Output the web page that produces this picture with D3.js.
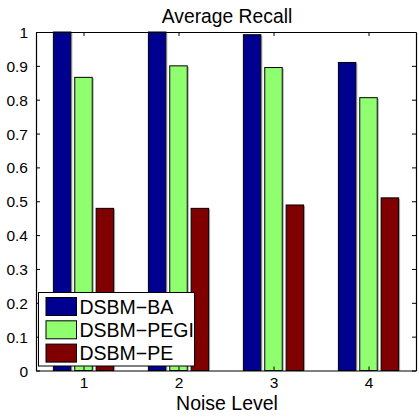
<!DOCTYPE html>
<html>
<head>
<meta charset="utf-8">
<script src="https://cdn.jsdelivr.net/npm/d3@7"></script>
<style>
  body { margin: 0; background: #fff; }
  text { font-family: "Liberation Sans", Arial, sans-serif; fill: #000; }
</style>
</head>
<body>
<div class="myBox"></div>
<script>
var levels = [1, 2, 3, 4];
var seriesNames = ["DSBM\u2212BA", "DSBM\u2212PEGI", "DSBM\u2212PE"];
var ba = [1.0, 1.0, 0.992, 0.910];
var pegi = [0.866, 0.900, 0.895, 0.806];
var pe = [0.479, 0.479, 0.489, 0.510];
var yTicks = [0, 0.1, 0.2, 0.3, 0.4, 0.5, 0.6, 0.7, 0.8, 0.9, 1];
var colors = ["#000090", "#8fff70", "#800000"];

var width = 419, height = 417;
var plotL = 36, plotR = 416, plotT = 32, plotB = 370.5;

var svg = d3.select(".myBox").append("svg")
  .attr("width", width)
  .attr("height", height);

var x = d3.scaleLinear().domain([0.5, 4.5]).range([plotL, plotR]);
var y = d3.scaleLinear().domain([0, 1]).range([plotB, plotT]);

var series = [ba, pegi, pe];
var offset = 0.225, barW = 0.184;

var bars = [];
series.forEach(function(vals, s) {
  vals.forEach(function(v, i) {
    bars.push({ s: s, x: levels[i] + (s - 1) * offset, v: v });
  });
});

// light shadow on the right side of each bar
svg.selectAll("rect.shadow").data(bars).enter().append("rect")
  .attr("class", "shadow")
  .attr("x", function(d) { return x(d.x + barW / 2) + 0.5; })
  .attr("y", function(d) { return y(d.v) + 1; })
  .attr("width", 1)
  .attr("height", function(d) { return plotB - y(d.v) - 1; })
  .attr("fill", "#aaa");

svg.selectAll("rect.bar").data(bars).enter().append("rect")
  .attr("class", "bar")
  .attr("x", function(d) { return x(d.x - barW / 2); })
  .attr("y", function(d) { return y(d.v); })
  .attr("width", function(d) { return x(d.x + barW / 2) - x(d.x - barW / 2); })
  .attr("height", function(d) { return plotB - y(d.v); })
  .attr("fill", function(d) { return colors[d.s]; })
  .attr("stroke", "#000")
  .attr("stroke-width", 1);

// axes (box with inward ticks)
var yAxis = d3.axisLeft(y).tickValues(yTicks).tickSizeInner(-4).tickSizeOuter(0).tickPadding(8)
  .tickFormat(function(d) { return d === 0 || d === 1 ? d3.format("d")(d) : d3.format(".1f")(d); });
var gy = svg.append("g").attr("transform", "translate(" + plotL + ",0)").call(yAxis);
var xAxis = d3.axisBottom(x).tickValues(levels).tickSizeInner(-4).tickSizeOuter(0).tickPadding(7)
  .tickFormat(d3.format("d"));
var gx = svg.append("g").attr("transform", "translate(0," + plotB + ")").call(xAxis);
var gyr = svg.append("g").attr("transform", "translate(" + plotR + ",0)")
  .call(d3.axisRight(y).tickValues(yTicks).tickSizeInner(-4).tickSizeOuter(0).tickFormat(""));
var gxt = svg.append("g").attr("transform", "translate(0," + plotT + ")")
  .call(d3.axisTop(x).tickValues(levels).tickSizeInner(-4).tickSizeOuter(0).tickFormat(""));

[gy, gx, gyr, gxt].forEach(function(g) {
  g.selectAll(".domain").attr("stroke", "#000").attr("stroke-width", 1.2);
  g.selectAll(".tick line").attr("stroke", "#000");
  g.selectAll("text").style("font-size", "15.5px").attr("font-family", null);
});
gy.selectAll("text").attr("dy", "0.36em");
gx.selectAll("text").attr("dy", "0.7em");

// title and x label
svg.append("text").attr("x", 227).attr("y", 22.5).attr("text-anchor", "middle")
  .style("font-size", "19.3px").text("Average Recall");
svg.append("text").attr("x", 227).attr("y", 409.5).attr("text-anchor", "middle")
  .style("font-size", "19.5px").text("Noise Level");

// legend
var lg = svg.append("g");
lg.append("rect").attr("x", 38.5).attr("y", 292.5).attr("width", 156).attr("height", 73.5)
  .attr("fill", "#fff").attr("stroke", "#000").attr("stroke-width", 1);
seriesNames.forEach(function(name, s) {
  var yy = 297.5 + s * 23.3;
  lg.append("rect").attr("x", 46).attr("y", yy).attr("width", 30.5).attr("height", 18)
    .attr("fill", colors[s]).attr("stroke", "#000");
  lg.append("text").attr("x", 79.5).attr("y", yy + 16.2).style("font-size", "19.5px").text(name);
});
</script>
</body>
</html>
